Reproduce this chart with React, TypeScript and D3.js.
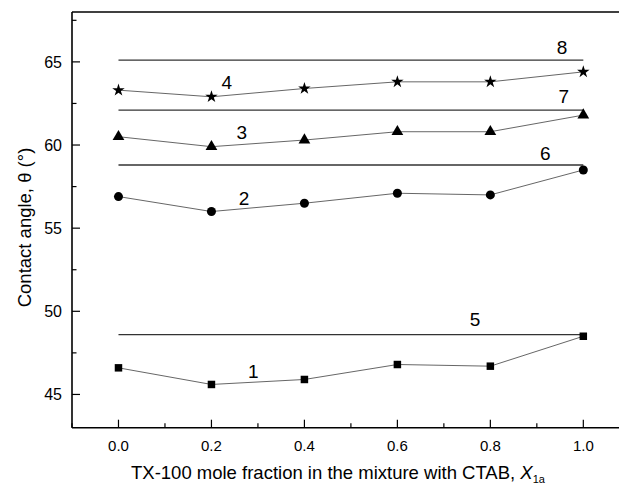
import React from 'react';
import * as d3 from 'd3';

const fractions = [0.0, 0.2, 0.4, 0.6, 0.8, 1.0];
const series1 = [46.6, 45.6, 45.9, 46.8, 46.7, 48.5];
const series2 = [56.9, 56.0, 56.5, 57.1, 57.0, 58.5];
const series3 = [60.5, 59.9, 60.3, 60.8, 60.8, 61.8];
const series4 = [63.3, 62.9, 63.4, 63.8, 63.8, 64.4];
const refLevels = [48.6, 58.8, 62.1, 65.1];
const refNames = ['5', '6', '7', '8'];
const refLabelPos = [[0.767, 49.5], [0.918, 59.5], [0.958, 62.94], [0.954, 65.88]];
const seriesNames = ['1', '2', '3', '4'];
const seriesLabelPos = [[0.29, 46.42], [0.27, 56.8], [0.265, 60.8], [0.233, 63.8]];
const xTicks = [0.0, 0.2, 0.4, 0.6, 0.8, 1.0];
const xMinor = [-0.1, 0.1, 0.3, 0.5, 0.7, 0.9, 1.1];
const yTicks = [45, 50, 55, 60, 65];
const yMinor = [47.5, 52.5, 57.5, 62.5, 67.5];

const W = 619;
const H = 486;
const left = 72;
const top = 12;
const bottom = 427.7;
const right = 629.8;

const x = d3.scaleLinear().domain([-0.1, 1.1]).range([left, right]);
const y = d3.scaleLinear().domain([43, 68]).range([bottom, top]);

const font = 'Arial, "Liberation Sans", sans-serif';

const symbols = [d3.symbolSquare, d3.symbolCircle, d3.symbolTriangle, d3.symbolStar];
const sizes = [56, 64, 60, 48];
const allSeries = [series1, series2, series3, series4];

const App = () => {
  const line = d3.line<number>()
    .x((_, i) => x(fractions[i]))
    .y(d => y(d));

  return (
    <svg width={W} height={H} style={{ position: 'absolute', left: 0, top: 0, background: '#fff' }}>
      <rect width={W} height={H} fill="#fff" />

      {/* frame */}
      <line x1={left} x2={right} y1={top} y2={top} stroke="#000" strokeWidth={1.6} />
      <line x1={left} x2={right} y1={bottom} y2={bottom} stroke="#000" strokeWidth={1.6} />
      <line x1={left} x2={left} y1={top} y2={bottom} stroke="#000" strokeWidth={1.6} />

      {/* y ticks */}
      {yTicks.map(t => (
        <g key={'y' + t}>
          <line x1={left} x2={left + 8} y1={y(t)} y2={y(t)} stroke="#000" strokeWidth={1.2} />
          <text x={left - 10} y={y(t)} dy="0.36em" textAnchor="end" fontFamily={font} fontSize={16}>{t}</text>
        </g>
      ))}
      {yMinor.map(t => (
        <line key={'ym' + t} x1={left} x2={left + 4.5} y1={y(t)} y2={y(t)} stroke="#000" strokeWidth={1.2} />
      ))}

      {/* x ticks */}
      {xTicks.map(t => (
        <g key={'x' + t}>
          <line x1={x(t)} x2={x(t)} y1={bottom} y2={bottom - 8} stroke="#000" strokeWidth={1.2} />
          <text x={x(t)} y={451} textAnchor="middle" fontFamily={font} fontSize={15}>{t.toFixed(1)}</text>
        </g>
      ))}
      {xMinor.map(t => (
        <line key={'xm' + t} x1={x(t)} x2={x(t)} y1={bottom} y2={bottom - 4.5} stroke="#000" strokeWidth={1.2} />
      ))}

      {/* reference levels */}
      {refLevels.map((v, i) => (
        <line key={'r' + i} x1={x(0)} x2={x(1)} y1={y(v)} y2={y(v)} stroke="#333" strokeWidth={1.3} />
      ))}
      {refNames.map((n, i) => (
        <text key={'rn' + i} x={x(refLabelPos[i][0])} y={y(refLabelPos[i][1])} dy="0.36em" textAnchor="middle" fontFamily={font} fontSize={19}>{n}</text>
      ))}

      {/* series */}
      {allSeries.map((s, si) => (
        <g key={'s' + si}>
          <path d={line(s) || ''} fill="none" stroke="#555" strokeWidth={0.9} />
          {s.map((v, i) => (
            <path key={i} transform={`translate(${x(fractions[i])},${y(v)})`} d={d3.symbol().type(symbols[si]).size(sizes[si])() || ''} fill="#000" />
          ))}
        </g>
      ))}
      {seriesNames.map((n, i) => (
        <text key={'sn' + i} x={x(seriesLabelPos[i][0])} y={y(seriesLabelPos[i][1])} dy="0.36em" textAnchor="middle" fontFamily={font} fontSize={19}>{n}</text>
      ))}

      {/* axis titles */}
      <text x={131} y={479} fontFamily={font} fontSize={18.5}>
        TX-100 mole fraction in the mixture with CTAB, <tspan fontStyle="italic">X</tspan><tspan fontSize={11} dy={4}>1a</tspan>
      </text>
      <text transform={`translate(31,227.5) rotate(-90)`} textAnchor="middle" fontFamily={font} fontSize={18.5}>
        Contact angle, θ (°)
      </text>
    </svg>
  );
};

export default App;
